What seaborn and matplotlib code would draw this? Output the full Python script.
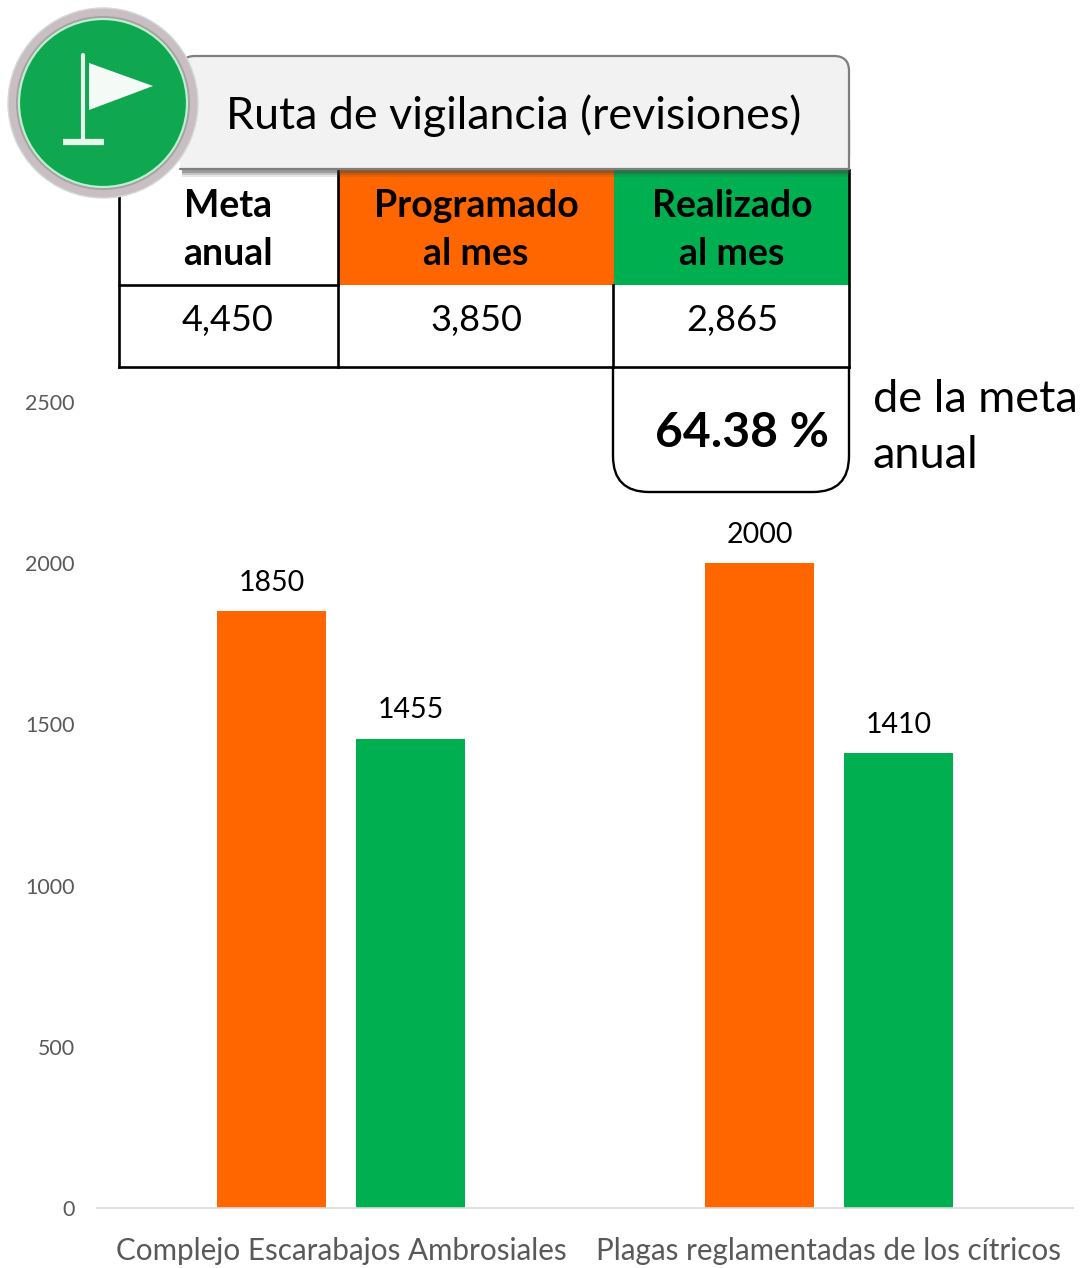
import matplotlib
matplotlib.use("Agg")
import matplotlib.pyplot as plt
from matplotlib.patches import Circle, FancyBboxPatch, PathPatch, Polygon, Rectangle
from matplotlib.path import Path
import pandas as pd
import seaborn as sns

categorias = ["Complejo Escarabajos Ambrosiales", "Plagas reglamentadas de los cítricos"]
programado = [1850, 2000]
realizado = [1455, 1410]
y_ticks = [0, 500, 1000, 1500, 2000, 2500]

titulo = "Ruta de vigilancia (revisiones)"
encabezados = ["Meta\nanual", "Programado\nal mes", "Realizado\nal mes"]
valores_tabla = ["4,450", "3,850", "2,865"]
porcentaje = "64.38 %"
nota = "de la meta\nanual"

NARANJA = "#FF6600"
VERDE = "#00B050"
W, H = 1082, 1268

sns.set_theme(style="white")
plt.rcParams["font.family"] = ["Lato", "DejaVu Sans"]

df = pd.DataFrame({
    "categoria": categorias * 2,
    "serie": ["Programado"] * 2 + ["Realizado"] * 2,
    "valor": programado + realizado,
})

fig = plt.figure(figsize=(W / 100, H / 100), dpi=100)
ax = fig.add_axes([97 / W, 1 - 1208 / H, 976 / W, 806.25 / H])
sns.barplot(data=df, x="categoria", y="valor", hue="serie", order=categorias,
            palette=[NARANJA, VERDE], saturation=1, width=0.57, gap=0.21,
            linewidth=0, legend=False, ax=ax)
for c in ax.containers:
    ax.bar_label(c, padding=11, fontsize=20.5, color="black")

ax.set_ylim(0, 2500)
ax.set_yticks(y_ticks)
ax.set_xlabel("")
ax.set_ylabel("")
ax.tick_params(axis="y", length=0, pad=16, labelsize=15.4, labelcolor="#595959")
ax.tick_params(axis="x", length=0, pad=21, labelsize=21.3, labelcolor="#595959")
sns.despine(ax=ax, left=True)
ax.spines["bottom"].set_color("#D9D9D9")
ax.spines["bottom"].set_linewidth(1.2)

# capa en pixeles para el encabezado y la tabla
ov = fig.add_axes([0, 0, 1, 1], facecolor="none")
ov.set_xlim(0, W)
ov.set_ylim(H, 0)
ov.axis("off")

# tabla
ov.add_patch(Rectangle((338, 170), 276, 115, fc=NARANJA, ec="none"))
ov.add_patch(Rectangle((614, 170), 235, 115, fc=VERDE, ec="none"))
for xs, ys in [((119, 119), (170, 367)), ((338, 338), (170, 367)), ((613, 613), (285, 367)),
               ((849, 849), (170, 367)), ((119, 338), (285, 285)), ((119, 849), (367, 367))]:
    ov.plot(xs, ys, color="black", lw=1.9, solid_capstyle="projecting")

cx = [228, 476, 732]
for x, enc, val in zip(cx, encabezados, valores_tabla):
    l1, l2 = enc.split("\n")
    ov.text(x, 206, l1, ha="center", va="center", fontsize=27, fontweight="bold", color="black")
    ov.text(x, 254, l2, ha="center", va="center", fontsize=27, fontweight="bold", color="black")
    ov.text(x, 321, val, ha="center", va="center", fontsize=26, color="black")

# caja redondeada del porcentaje
r = 36
verts = [(613, 367), (613, 492 - r), (613, 492), (613 + r, 492), (849 - r, 492),
         (849, 492), (849, 492 - r), (849, 367)]
codes = [Path.MOVETO, Path.LINETO, Path.CURVE3, Path.CURVE3, Path.LINETO,
         Path.CURVE3, Path.CURVE3, Path.LINETO]
ov.add_patch(PathPatch(Path(verts, codes), fc="white", ec="black", lw=1.7))
ov.text(742, 433, porcentaje, ha="center", va="center", fontsize=34.6, fontweight="bold", color="black")
l1, l2 = nota.split("\n")
ov.text(873, 399, l1, ha="left", va="center", fontsize=32.5, color="black")
ov.text(873, 455, l2, ha="left", va="center", fontsize=32.5, color="black")

# banner del titulo, con sombra suave
for dy, alpha in [(7, 0.12), (5, 0.2), (3, 0.3)]:
    ov.add_patch(Rectangle((182, 165), 668, dy + 5, fc="#404040", ec="none", alpha=alpha, zorder=4))
ov.add_patch(FancyBboxPatch((180, 56), 669, 113, boxstyle="round,pad=0,rounding_size=15",
                            fc="#F2F2F2", ec="#7F7F7F", lw=1.6, zorder=5))
ov.add_patch(Rectangle((180, 120), 669, 48.5, fc="#F2F2F2", ec="none", zorder=5))
ov.plot([180, 849, 849], [169, 169, 120], color="#7F7F7F", lw=1.6, zorder=5)
ov.text(514, 116, titulo, ha="center", va="center", fontsize=32.2, color="black", zorder=6)

# insignia con bandera
ov.add_patch(Circle((103, 103), 95, fc="#C9BFC2", ec="#D5D9D9", lw=1, zorder=7))
ov.add_patch(Circle((103, 103), 87, fc="#A8A0A3", ec="none", zorder=7))
ov.add_patch(Circle((103, 103), 84, fc="#0FA750", ec="#B9F0CF", lw=1.6, zorder=7))
ov.plot([83, 83], [55, 141], color="#E6F7EC", lw=3, zorder=8)
ov.plot([63, 104], [141.5, 141.5], color="#E6F7EC", lw=4.5, solid_capstyle="butt", zorder=8)
ov.add_patch(Polygon([(89, 63), (153, 86), (89, 110)], fc="#F4FBF6", ec="none", zorder=8))

fig.savefig("out.png", dpi=100)
